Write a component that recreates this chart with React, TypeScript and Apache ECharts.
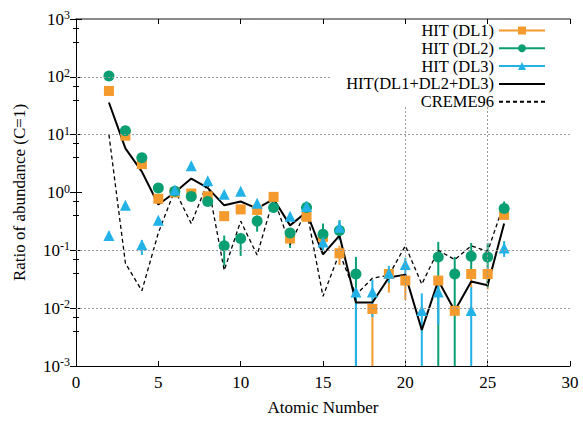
import React, { useEffect, useRef } from "react";
import * as echarts from "echarts";

const atomicNumbers = [2, 3, 4, 5, 6, 7, 8, 9, 10, 11, 12, 13, 14, 15, 16, 17, 18, 19, 20, 21, 22, 23, 24, 25, 26];
const hitDL1 = [57, 9.6, 3.1, 0.78, 1.0, 0.96, 0.86, 0.39, 0.51, 0.5, 0.84, 0.16, 0.38, 0.17, 0.089, null, 0.0097, 0.039, 0.03, null, 0.03, 0.009, 0.039, 0.039, 0.41];
const hitDL2 = [103, 11.7, 4.0, 1.2, 1.05, 0.85, 0.7, 0.12, 0.16, 0.32, 0.55, 0.2, 0.55, 0.19, 0.22, 0.039, null, null, null, null, 0.077, 0.039, 0.079, 0.077, 0.53];
const hitDL3 = [0.18, 0.6, 0.125, 0.33, 1.1, 2.9, 1.6, 0.93, 1.05, 0.65, null, 0.39, 0.57, 0.14, 0.25, 0.019, 0.019, 0.04, 0.057, 0.0091, 0.019, null, 0.0091, null, 0.11];
const hitSum = [36, 5.8, 2.3, 0.62, 1.0, 1.74, 1.2, 0.6, 0.7, 0.53, 0.77, 0.27, 0.46, 0.085, 0.18, 0.0125, 0.0125, 0.034, 0.038, 0.0042, 0.03, 0.009, 0.029, 0.025, 0.29];
const creme96 = [10, 0.06, 0.02, 0.2, 1.1, 0.29, 1.5, 0.045, 0.32, 0.083, 0.8, 0.125, 0.5, 0.016, 0.09, 0.017, 0.033, 0.037, 0.12, 0.026, 0.1, 0.069, 0.12, 0.096, 0.65];

// error bars: [Z, low, high]
const dl1Errors = [[16, 0.056, 0.12], [18, 0.001, 0.0097], [19, 0.0186, 0.046], [20, 0.014, 0.035], [22, 0.025, 0.036], [24, 0.022, 0.045], [25, 0.021, 0.045]];
const dl2Errors = [[7, 0.75, 0.95], [8, 0.6, 0.82], [9, 0.054, 0.18], [10, 0.08, 0.2], [11, 0.21, 0.4], [13, 0.11, 0.22], [14, 0.4, 0.7], [15, 0.12, 0.29], [16, 0.18, 0.33], [17, 0.001, 0.077], [22, 0.001, 0.14], [23, 0.001, 0.077], [24, 0.044, 0.134], [25, 0.023, 0.134], [26, 0.44, 0.7]];
const dl3Errors = [[2, 0.145, 0.21], [4, 0.083, 0.15], [5, 0.27, 0.34], [15, 0.1, 0.21], [16, 0.15, 0.33], [17, 0.001, 0.019], [18, 0.007, 0.031], [19, 0.027, 0.054], [20, 0.036, 0.074], [21, 0.001, 0.018], [22, 0.0052, 0.03], [24, 0.001, 0.023], [26, 0.077, 0.145]];

const xTicks = [0, 5, 10, 15, 20, 25, 30];
const seriesNames = ["HIT (DL1)", "HIT (DL2)", "HIT (DL3)", "HIT(DL1+DL2+DL3)", "CREME96"];

const ORANGE = "#f59a2c";
const GREEN = "#0a9f73";
const BLUE = "#22b2e8";
const FONT = "'Liberation Serif', 'Times New Roman', serif";

function pts(vals: (number | null)[]) {
  const out: number[][] = [];
  atomicNumbers.forEach((z, i) => {
    const v = vals[i];
    if (v != null) out.push([z, v]);
  });
  return out;
}

function errSeries(data: number[][], color: string) {
  return {
    type: "custom",
    xAxisIndex: 0,
    yAxisIndex: 0,
    silent: true,
    clip: true,
    encode: { x: 0, y: [1, 2] },
    data,
    renderItem: (params: any, api: any) => {
      const x = api.value(0);
      const p1 = api.coord([x, api.value(1)]);
      const p2 = api.coord([x, api.value(2)]);
      return {
        type: "line",
        shape: { x1: p1[0], y1: p1[1], x2: p2[0], y2: p2[1] },
        style: { stroke: color, lineWidth: 2 },
      };
    },
  };
}

export default function App() {
  const ref = useRef<HTMLDivElement>(null);
  useEffect(() => {
    if (!ref.current) return;
    const chart = echarts.init(ref.current, undefined, { renderer: "svg" });
    const gridStyle = { color: "#9a9a9a", width: 1, type: [2, 2] as any };
    const option: any = {
      animation: false,
      backgroundColor: "#fff",
      textStyle: { fontFamily: FONT },
      grid: { left: 76, right: 13, top: 19, bottom: 52 },
      legend: {
        orient: "vertical",
        align: "right",
        right: 32,
        top: 17,
        itemWidth: 46,
        itemHeight: 10,
        itemGap: 0.8,
        selectedMode: false,
        textStyle: { fontFamily: FONT, fontSize: 16.5, color: "#000", lineHeight: 16 },
        data: [
          { name: seriesNames[0], lineStyle: { opacity: 1, width: 2, color: ORANGE } },
          { name: seriesNames[1], lineStyle: { opacity: 1, width: 2, color: GREEN } },
          { name: seriesNames[2], lineStyle: { opacity: 1, width: 2, color: BLUE } },
          { name: seriesNames[3], itemStyle: { opacity: 0 } },
          { name: seriesNames[4], itemStyle: { opacity: 0 } },
        ],
      },
      xAxis: [
        {
          type: "value",
          min: xTicks[0],
          max: xTicks[xTicks.length - 1],
          interval: 5,
          name: "Atomic Number",
          nameLocation: "middle",
          nameGap: 33,
          nameTextStyle: { fontFamily: FONT, fontSize: 17, color: "#000" },
          axisLine: { lineStyle: { color: "#000", width: 1 } },
          axisTick: { inside: true, length: 5, lineStyle: { color: "#000" } },
          axisLabel: { fontFamily: FONT, fontSize: 17, color: "#000", margin: 8 },
          splitLine: { show: false },
        },
        {
          type: "value",
          position: "top",
          min: xTicks[0],
          max: xTicks[xTicks.length - 1],
          interval: 5,
          axisLine: { lineStyle: { color: "#666", width: 1.5 } },
          axisTick: { inside: true, length: 5, lineStyle: { color: "#000" } },
          axisLabel: { show: false },
          splitLine: { show: false },
        },
      ],
      yAxis: [
        {
          type: "log",
          logBase: 10,
          min: 0.001,
          max: 1000,
          splitNumber: 6,
          name: "Ratio of abundance (C=1)",
          nameLocation: "middle",
          nameGap: 48,
          nameTextStyle: { fontFamily: FONT, fontSize: 17, color: "#000" },
          axisLine: { lineStyle: { color: "#000", width: 1 } },
          axisTick: { inside: true, length: 6, lineStyle: { color: "#000" } },
          minorTick: { show: true, splitNumber: 3, length: 3, lineStyle: { color: "#000" } },
          axisLabel: {
            margin: 6,
            formatter: (v: number) => `{b|10}{e|${Math.round(Math.log10(v))}}`,
            rich: {
              b: { fontFamily: FONT, fontSize: 17, color: "#000", lineHeight: 20 },
              e: { fontFamily: FONT, fontSize: 12, color: "#000", verticalAlign: "top", lineHeight: 12 },
            },
          },
          splitLine: { show: false },
        },
        {
          type: "log",
          logBase: 10,
          min: 0.001,
          max: 1000,
          splitNumber: 6,
          position: "right",
          axisLine: { lineStyle: { color: "#000", width: 1 } },
          axisTick: { inside: true, length: 6, lineStyle: { color: "#000" } },
          minorTick: { show: true, splitNumber: 3, length: 3, lineStyle: { color: "#000" } },
          axisLabel: { show: false },
          splitLine: { show: false },
        },
      ],
      series: [
        {
          name: "grid",
          type: "line",
          data: [],
          silent: true,
          markLine: {
            silent: true,
            symbol: "none",
            label: { show: false },
            lineStyle: gridStyle,
            data: [
              [{ coord: [0, 100] }, { coord: [15.5, 100] }],
              [{ coord: [0, 10] }, { coord: [30, 10] }],
              [{ coord: [0, 0.1] }, { coord: [30, 0.1] }],
              [{ coord: [0, 0.01] }, { coord: [30, 0.01] }],
              [{ coord: [20, 30] }, { coord: [20, 0.001] }],
              [{ coord: [25, 30] }, { coord: [25, 0.001] }],
            ],
          },
        },
        errSeries(dl1Errors, ORANGE),
        {
          name: seriesNames[0],
          type: "line",
          data: pts(hitDL1),
          symbol: "rect",
          symbolSize: 10,
          lineStyle: { opacity: 0, color: ORANGE },
          itemStyle: { color: ORANGE },
        },
        errSeries(dl2Errors, GREEN),
        {
          name: seriesNames[1],
          type: "line",
          data: pts(hitDL2),
          symbol: "circle",
          symbolSize: 11,
          lineStyle: { opacity: 0, color: GREEN },
          itemStyle: { color: GREEN },
        },
        errSeries(dl3Errors, BLUE),
        {
          name: seriesNames[2],
          type: "line",
          data: pts(hitDL3),
          symbol: "triangle",
          symbolSize: 11,
          lineStyle: { opacity: 0, color: BLUE },
          itemStyle: { color: BLUE },
        },
        {
          name: seriesNames[3],
          type: "line",
          data: pts(hitSum),
          symbol: "none",
          lineStyle: { color: "#000", width: 2 },
          itemStyle: { color: "#000" },
        },
        {
          name: seriesNames[4],
          type: "line",
          data: pts(creme96),
          symbol: "none",
          lineStyle: { color: "#000", width: 1.3, type: [4, 3] },
          itemStyle: { color: "#000" },
        },
      ],
    };
    chart.setOption(option);
    return () => chart.dispose();
  }, []);
  return <div ref={ref} style={{ width: 583, height: 421, position: "absolute", left: 0, top: 0 }} />;
}
